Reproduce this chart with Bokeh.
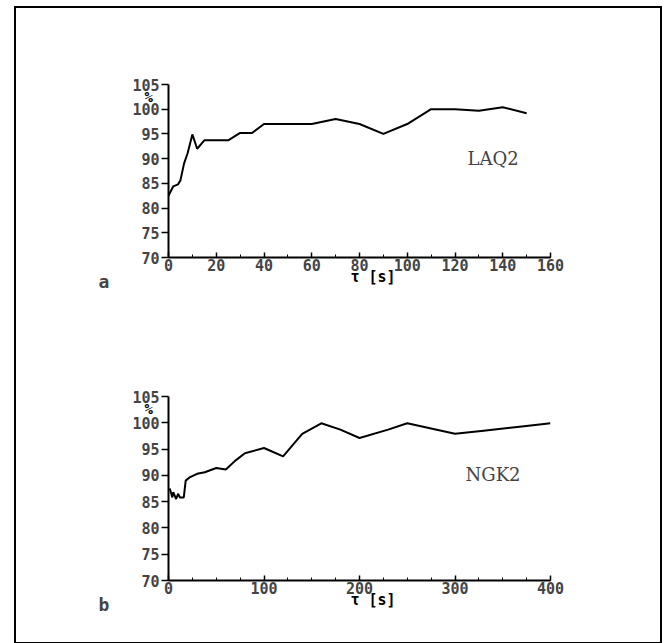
from bokeh.plotting import figure
from bokeh.layouts import column
from bokeh.models import Label, FixedTicker, Title
from bokeh.embed import file_html
from bokeh.resources import INLINE

# Panel a: LAQ2
tau_a = [0, 2, 4, 5, 6.5, 8, 10, 12, 15, 20, 25, 30, 35, 40, 60, 70, 80, 90, 100, 110, 120, 130, 140, 150]
pct_a = [82.5, 84.4, 84.8, 85.6, 89, 91.1, 94.9, 92, 93.7, 93.7, 93.7, 95.2, 95.2, 97, 97, 98, 97, 95, 97, 100, 100, 99.7, 100.4, 99.2]
xticks_a = [0, 20, 40, 60, 80, 100, 120, 140, 160]

# Panel b: NGK2
tau_b = [1, 2, 4, 5, 8, 10, 12, 16, 18, 22, 30, 38, 50, 60, 70, 80, 100, 120, 140, 160, 180, 200, 230, 250, 300, 330, 370, 400]
pct_b = [87.5, 87.1, 85.8, 86.8, 85.5, 86.5, 85.8, 85.8, 89, 89.6, 90.3, 90.6, 91.4, 91.1, 92.8, 94.2, 95.2, 93.6, 97.9, 99.9, 98.7, 97.1, 98.7, 99.9, 97.9, 98.5, 99.3, 99.9]
xticks_b = [0, 100, 200, 300, 400]

yticks = [70, 75, 80, 85, 90, 95, 100, 105]

TICK_FONT = "DejaVu Sans Mono"


def make_panel(xs, ys, xmax, xticks, minor, name, letter, h, left, top, fw, fh, name_pos):
    W = 644
    p = figure(width=W, height=h, x_range=(0, xmax), y_range=(70, 105),
               output_backend="svg", toolbar_location=None,
               min_border_left=left, min_border_top=top,
               min_border_right=W - left - fw, min_border_bottom=h - top - fh)
    p.outline_line_color = None
    p.grid.grid_line_color = None
    p.background_fill_color = "white"
    p.border_fill_color = "white"
    p.line(xs, ys, line_color="black", line_width=2)

    step = (xticks[1] - xticks[0]) / minor
    for ax in p.xaxis:
        ax.ticker = FixedTicker(ticks=xticks,
                                minor_ticks=[xticks[0] + i * step
                                             for i in range(minor * (len(xticks) - 1) + 1)])
        ax.axis_line_width = 2
        ax.major_tick_in = 5
        ax.major_tick_out = 0
        ax.minor_tick_in = 3
        ax.minor_tick_out = 0
        ax.major_tick_line_width = 1.5
        ax.major_label_text_font = TICK_FONT
        ax.major_label_text_font_style = "bold"
        ax.major_label_text_font_size = "15px"
        ax.major_label_standoff = 1
        ax.axis_label = "\u00a0\u00a0\u00a0\u03c4 [s]"
        ax.axis_label_text_font = TICK_FONT
        ax.axis_label_text_font_style = "bold"
        ax.axis_label_text_font_size = "15px"
        ax.axis_label_text_color = "black"
        ax.axis_label_standoff = -6
    for ax in p.yaxis:
        ax.ticker = FixedTicker(ticks=yticks)
        ax.axis_line_width = 2
        ax.major_tick_in = 0
        ax.major_tick_out = 7
        ax.minor_tick_in = 0
        ax.minor_tick_out = 0
        ax.major_tick_line_width = 1.5
        ax.major_label_text_font = TICK_FONT
        ax.major_label_text_font_style = "bold"
        ax.major_label_text_font_size = "15px"
        ax.major_label_standoff = 2

    # "%" unit mark near the top of the y axis
    p.add_layout(Title(text="%", align="left", offset=-24, vertical_align="bottom",
                       standoff=-40, text_font=TICK_FONT, text_font_style="bold",
                       text_font_size="14px", text_color="black"), "above")

    # panel letter
    p.add_layout(Title(text=letter, align="left", offset=-70, vertical_align="top",
                       standoff=-36, text_font=TICK_FONT, text_font_style="bold",
                       text_font_size="18px"), "below")

    p.add_layout(Label(x=name_pos[0], y=name_pos[1], x_units="screen", y_units="screen",
                       text=name, text_font="DejaVu Serif", text_font_size="18px",
                       text_baseline="middle", text_align="left"))
    return p


pa = make_panel(tau_a, pct_a, 160, xticks_a, 2, "LAQ2", "a", 316, 152, 76, 384, 173,
                name_pos=(299, 99))
pb = make_panel(tau_b, pct_b, 400, xticks_b, 4, "NGK2", "b", 318, 149, 72, 385, 184,
                name_pos=(297, 106))

layout = column(pa, pb, margin=(6, 0, 0, 14),
                styles={"border": "2px solid black", "background-color": "white"})

open("out.html", "w").write(file_html(layout, INLINE))
